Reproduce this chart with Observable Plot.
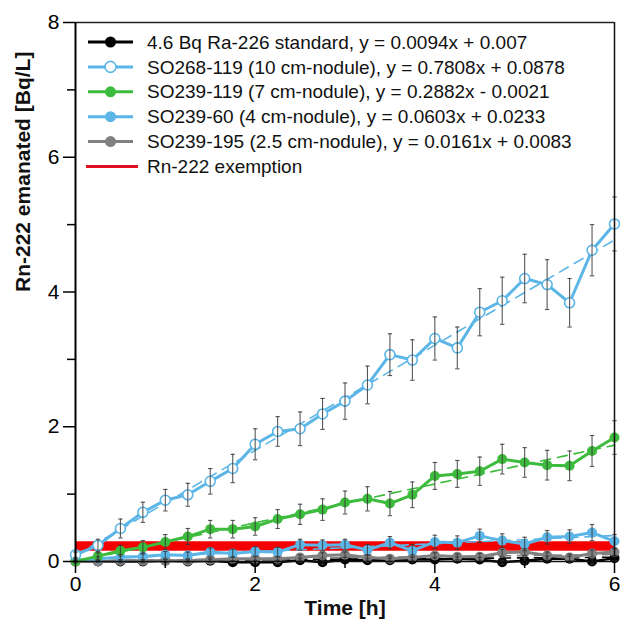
<!DOCTYPE html>
<html><head><meta charset="utf-8">
<script src="https://cdn.jsdelivr.net/npm/d3@7"></script>
<script src="https://cdn.jsdelivr.net/npm/@observablehq/plot@0.6"></script>
<style>
body{margin:0;background:#fff;}
#chart{width:620px;height:633px;}
</style></head><body><div id="chart"></div>
<script>
// ---- data ----
const time = [0,0.25,0.5,0.75,1,1.25,1.5,1.75,2,2.25,2.5,2.75,3,3.25,3.5,3.75,4,4.25,4.5,4.75,5,5.25,5.5,5.75,6];

const seriesLabels = [
  "4.6 Bq Ra-226 standard, y = 0.0094x + 0.007",
  "SO268-119 (10 cm-nodule), y = 0.7808x + 0.0878",
  "SO239-119 (7 cm-nodule), y = 0.2882x - 0.0021",
  "SO239-60 (4 cm-nodule), y = 0.0603x + 0.0233",
  "SO239-195 (2.5 cm-nodule), y = 0.0161x + 0.0083"
];
const exemptionLabel = "Rn-222 exemption";

const ra226Std   = [0,0,0,0,0.01,0,0.01,-0.01,-0.01,-0.01,0.02,-0.01,0.03,0.02,0.02,0.03,0.03,0.04,0.03,-0.01,0.01,0.04,0.04,0.0,0.05];
const ra226StdErr= [0.01,0.01,0.02,0.02,0.02,0.02,0.02,0.02,0.03,0.03,0.03,0.03,0.03,0.03,0.03,0.03,0.03,0.03,0.03,0.03,0.04,0.04,0.04,0.04,0.04];

const so268_119    = [0.10,0.24,0.49,0.73,0.91,0.99,1.19,1.38,1.74,1.93,1.97,2.19,2.38,2.62,3.07,2.99,3.31,3.17,3.70,3.87,4.20,4.11,3.84,4.62,5.01];
const so268_119Err = [0.04,0.09,0.14,0.15,0.16,0.17,0.19,0.21,0.23,0.22,0.25,0.23,0.27,0.28,0.31,0.30,0.32,0.31,0.35,0.35,0.36,0.37,0.36,0.38,0.40];

const so239_119    = [0,0.08,0.16,0.21,0.29,0.37,0.48,0.48,0.52,0.63,0.70,0.77,0.875,0.93,0.86,0.99,1.27,1.30,1.34,1.52,1.47,1.43,1.42,1.64,1.84];
const so239_119Err = [0.02,0.05,0.08,0.10,0.11,0.12,0.13,0.13,0.13,0.14,0.15,0.16,0.17,0.18,0.18,0.19,0.20,0.20,0.21,0.22,0.22,0.22,0.22,0.23,0.25];

const so239_60     = [0.02,0.04,0.065,0.075,0.10,0.09,0.14,0.12,0.15,0.14,0.25,0.24,0.25,0.17,0.28,0.16,0.29,0.28,0.38,0.31,0.26,0.36,0.37,0.43,0.30];
const so239_60Err  = [0.02,0.03,0.04,0.05,0.05,0.05,0.06,0.06,0.07,0.07,0.08,0.08,0.08,0.08,0.09,0.09,0.10,0.10,0.10,0.10,0.10,0.10,0.10,0.12,0.10];

const so239_195    = [0,0,0.01,0.01,0.01,0.01,0.025,0.04,0.04,0.04,0.06,0.09,0.10,0.06,0.04,0.06,0.09,0.07,0.07,0.13,0.14,0.09,0.06,0.12,0.14];
const so239_195Err = [0.01,0.01,0.02,0.02,0.02,0.02,0.03,0.03,0.03,0.03,0.04,0.04,0.04,0.04,0.04,0.04,0.04,0.04,0.05,0.05,0.05,0.05,0.05,0.05,0.05];

// linear fits as printed in the legend
const fitSlope     = [0.0094, 0.7808, 0.2882, 0.0603, 0.0161];
const fitIntercept = [0.007, 0.0878, -0.0021, 0.0233, 0.0083];

const exemptionLevel = [0.23];

const xMajorTicks = [0,2,4,6];
const xMinorTicks = [1,3,5];
const yMajorTicks = [0,2,4,6,8];
const yMinorTicks = [1,3,5,7];
const xDomain = [0,6];
const yDomain = [0,8];

// ---- styles ----
const seriesColors = ["#000000","#5BB5E6","#3DBB3D","#5BB5E6","#808080"];
const seriesHollow = [false,true,false,false,false];
const seriesLineW  = [2.5,3,3,3,3];
const drawOrder = [0,4,3,2,1];

const values = [ra226Std, so268_119, so239_119, so239_60, so239_195];
const errors = [ra226StdErr, so268_119Err, so239_119Err, so239_60Err, so239_195Err];

const rows = [];
drawOrder.forEach(s => {
  values[s].forEach((v,j) => rows.push({s, t: time[j], v, e: errors[s][j]}));
});
const fitRows = [];
drawOrder.forEach(s => {
  xDomain.forEach(t => fitRows.push({s, t, v: fitSlope[s]*t + fitIntercept[s]}));
});
const bandRows = exemptionLevel.map(y => ({t0: xDomain[0], t1: xDomain[1], y}));

const capSymbol = {draw(ctx, size){ const r = Math.sqrt(size/Math.PI); ctx.moveTo(-r,0); ctx.lineTo(r,0); }};
const font = "'Liberation Sans', Arial, sans-serif";
const fmt = d => String(d);

const marks = [
  Plot.ruleY(bandRows, {x1:"t0", x2:"t1", y:"y", stroke:"#f40000", strokeWidth:9.5})
];
drawOrder.forEach(s => {
  marks.push(Plot.line(fitRows.filter(d=>d.s===s), {x:"t", y:"v", stroke: seriesColors[s], strokeWidth:1.6, strokeDasharray:"10,7"}));
});
drawOrder.forEach(s => {
  const d = rows.filter(r=>r.s===s);
  marks.push(Plot.line(d, {x:"t", y:"v", stroke: seriesColors[s], strokeWidth: seriesLineW[s]}));
  marks.push(Plot.dot(d, {x:"t", y:"v", r: 5,
    fill: seriesHollow[s] ? "white" : seriesColors[s],
    stroke: seriesColors[s], strokeWidth: seriesHollow[s]?1.6:0}));
});
marks.push(Plot.ruleX(rows, {x:"t", y1: d=>d.v-d.e, y2: d=>d.v+d.e, stroke:"#3a3a3a", strokeWidth:1.1, strokeOpacity:0.85}));
marks.push(Plot.dot(rows, {x:"t", y: d=>d.v-d.e, symbol: capSymbol, r:2.2, stroke:"#3a3a3a", fill:"none", strokeWidth:1.1, strokeOpacity:0.85}));
marks.push(Plot.dot(rows, {x:"t", y: d=>d.v+d.e, symbol: capSymbol, r:2.2, stroke:"#3a3a3a", fill:"none", strokeWidth:1.1, strokeOpacity:0.85}));

// frame
marks.push(Plot.ruleY([yDomain[1]], {stroke:"#222", strokeWidth:1.3}));
marks.push(Plot.ruleX([xDomain[1]], {stroke:"#111", strokeWidth:1.5}));
marks.push(Plot.ruleY([yDomain[0]], {stroke:"#111", strokeWidth:1.5}));
marks.push(Plot.ruleX([xDomain[0]], {stroke:"#000", strokeWidth:2}));

// axes
marks.push(Plot.axisY(yMajorTicks, {tickSize:12, tickPadding:4, fontSize:21, label:null, strokeWidth:1.5, tickFormat:fmt}));
marks.push(Plot.axisY(yMinorTicks, {tickSize:8, tickFormat:()=>"", label:null, strokeWidth:1.5}));
marks.push(Plot.axisX(xMajorTicks, {tickSize:12, tickPadding:3, fontSize:21, label:null, strokeWidth:1.5, tickFormat:fmt}));
marks.push(Plot.axisX(xMinorTicks, {tickSize:7, tickFormat:()=>"", label:null, strokeWidth:1.5}));
marks.push(Plot.text(["Rn-222 emanated [Bq/L]"], {frameAnchor:"left", dx:-52, rotate:-90, fontSize:21, fontWeight:"bold", fill:"#111"}));
marks.push(Plot.text(["Time [h]"], {frameAnchor:"bottom", dy:53, fontSize:21, fontWeight:"bold", fill:"#111"}));

const chart = Plot.plot({
  width:620, height:633,
  marginLeft:75, marginRight:6, marginTop:22, marginBottom:72,
  x:{domain:xDomain}, y:{domain:yDomain},
  style:{fontFamily:font, background:"#fff", color:"#000", overflow:"visible"},
  marks
});
document.getElementById("chart").appendChild(chart);

// ---- legend (inside plot area, top) ----
const svg = d3.select(chart);
const lg = svg.append("g").attr("font-family", font).attr("font-size", 19).attr("text-anchor", "start");
const rowY0 = 42, rowStep = 24.9;
const legendEntries = seriesLabels.map((label,i)=>({label, i}));
legendEntries.forEach((e, k) => {
  const y = rowY0 + k*rowStep;
  const c = seriesColors[e.i];
  lg.append("line").attr("x1",88).attr("x2",133).attr("y1",y).attr("y2",y).attr("stroke",c).attr("stroke-width",3);
  lg.append("circle").attr("cx",110.5).attr("cy",y).attr("r",5.5)
    .attr("fill", seriesHollow[e.i] ? "white" : c).attr("stroke", c).attr("stroke-width", seriesHollow[e.i]?1.6:0);
  lg.append("text").attr("x",147).attr("y",y).attr("dy","0.35em").attr("text-anchor","start").attr("fill","#111").text(e.label);
});
{
  const y = rowY0 + seriesLabels.length*rowStep;
  lg.append("line").attr("x1",86).attr("x2",138).attr("y1",y).attr("y2",y).attr("stroke","#e01020").attr("stroke-width",3);
  lg.append("text").attr("x",147).attr("y",y).attr("dy","0.35em").attr("text-anchor","start").attr("fill","#111").text(exemptionLabel);
}
</script>
</body></html>
